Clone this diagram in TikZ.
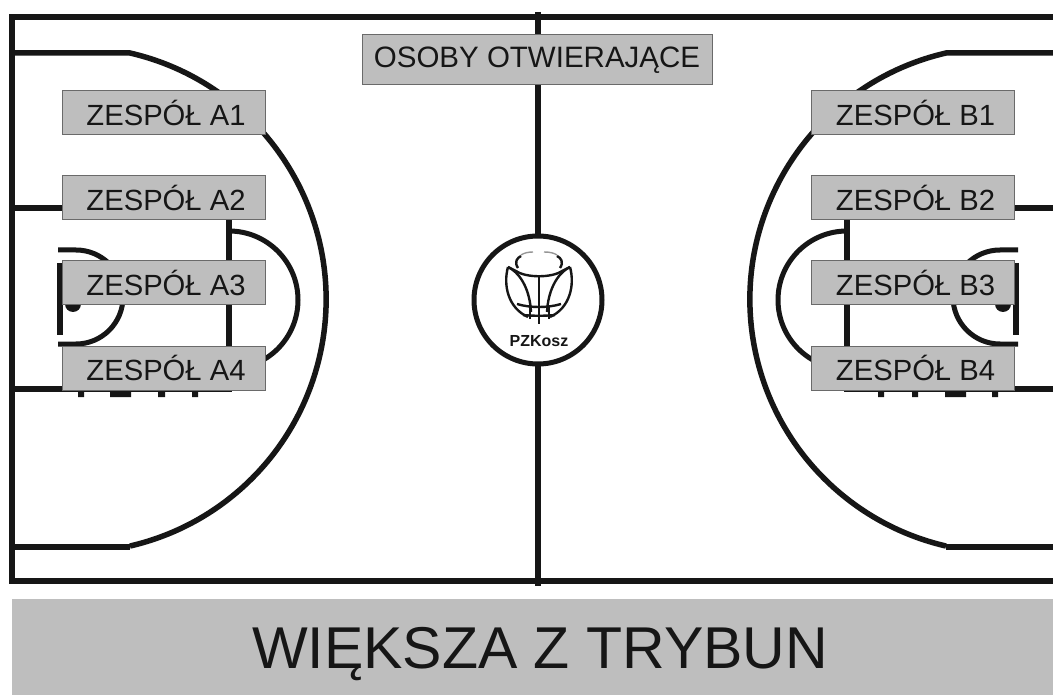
\documentclass[tikz,border=0pt]{standalone}
\usepackage{fontspec}
\setmainfont{Liberation Sans}
\definecolor{boxgray}{HTML}{BEBEBE}
\definecolor{boxedge}{HTML}{6A6A6A}
\definecolor{ink}{HTML}{161616}
\tikzset{
  court/.style={draw=ink,line width=5.5pt},
  thin court/.style={draw=ink,line width=5pt},
  team/.style={draw=boxedge,line width=1pt,fill=boxgray,text=ink,minimum width=203pt,minimum height=44pt,inner sep=0pt,font=\fontsize{29.2}{30}\selectfont},
  teamtext/.style={team,execute at begin node={\kern5pt}},
  logoline/.style={draw=ink,line width=2.4pt},
}
\begin{document}
\begin{tikzpicture}[x=1pt,y=-1pt]
\useasboundingbox (0,0) rectangle (1053,695);
\fill[white] (0,0) rectangle (1053,695);
% outer lines
\draw[court] (1053,17) -- (12,17) -- (12,581) -- (1053,581);
\draw[court] (538,12) -- (538,586);
% three-point lines, left
\draw[court] (12,53) -- (130,53) arc[start angle=-77,end angle=77,radius=253];
\draw[court] (130,547) -- (12,547);
% lane, left
\draw[court] (12,208) -- (70,208);
\draw[court] (12,389) -- (232,389);
\draw[court] (229,215) -- (229,385);
\draw[thin court] (229,231) arc[start angle=-90,end angle=90,radius=69];
% basket, left
\draw[line width=6pt,draw=ink] (60,263) -- (60,335);
\draw[thin court] (58,250) -- (76,250) arc[start angle=-90,end angle=90,radius=47] -- (58,344);
\fill[ink] (73,304) circle[radius=8];
\fill[ink] (78,389) rectangle (84,397) (110,389) rectangle (131,397) (158,389) rectangle (165,397) (192,389) rectangle (198,397);
% three-point lines, right
\draw[court] (1053,53) -- (946,53) arc[start angle=257,end angle=103,radius=253];
\draw[court] (946,547) -- (1053,547);
% lane, right
\draw[court] (1053,208) -- (1006,208);
\draw[court] (1053,389) -- (844,389);
\draw[court] (847,215) -- (847,385);
\draw[thin court] (847,231) arc[start angle=270,end angle=90,radius=69];
% basket, right
\draw[line width=6pt,draw=ink] (1016,263) -- (1016,335);
\draw[thin court] (1018,250) -- (1000,250) arc[start angle=270,end angle=90,radius=47] -- (1018,344);
\fill[ink] (1003,304) circle[radius=8];
\fill[ink] (878,389) rectangle (884,397) (912,389) rectangle (918,397) (945,389) rectangle (966,397) (992,389) rectangle (998,397);
% centre circle and logo
\node[circle,draw=ink,line width=5pt,fill=white,minimum size=128pt,inner sep=0pt] (centre) at (538,300) {};
% ball outline
\draw[logoline] (508,267) .. controls (503,285) and (508,308) .. (528,317);
\draw[logoline] (570,267) .. controls (575,285) and (570,308) .. (550,317);
% hoop
\draw[logoline] (508,267) -- (516,271) .. controls (526,278) and (552,278) .. (562,271) -- (570,267);
\draw[logoline] (518,268) .. controls (514,262) and (517,258) .. (521,256);
\draw[logoline] (560,268) .. controls (564,262) and (561,258) .. (557,256);
\draw[draw=ink!45,line width=1.4pt] (521,255) .. controls (524,253) and (528,252) .. (533,252);
\draw[draw=ink!45,line width=1.4pt] (557,255) .. controls (554,253) and (550,252) .. (544,252);
% fan lines and centre stem
\draw[logoline] (508,267) .. controls (522,274) and (530,292) .. (531,312);
\draw[logoline] (570,267) .. controls (556,274) and (548,292) .. (547,312);
\draw[logoline] (539,276) -- (539,324);
\draw[logoline] (532,276) -- (546,276);
% net
\draw[logoline] (517,304) .. controls (530,308) and (548,308) .. (561,304);
\draw[logoline] (523,315) .. controls (532,316) and (546,316) .. (555,315);
\draw[logoline] (530,306) -- (530,319);
\draw[logoline] (549,306) -- (549,319);
\node[text=ink,font=\bfseries\fontsize{16}{16}\selectfont,inner sep=0pt] (pzkosz) at (539,341) {PZKosz};
% labels
\node[team,minimum width=350pt,minimum height=50pt,font=\fontsize{29.5}{30}\selectfont] (open) at (537,60) {OSOBY OTWIERAJĄCE};
\node[teamtext] (a1) at (163.5,113) {ZESPÓŁ A1};
\node[teamtext] (a2) at (163.5,198) {ZESPÓŁ A2};
\node[teamtext] (a3) at (163.5,283) {ZESPÓŁ A3};
\node[teamtext] (a4) at (163.5,368) {ZESPÓŁ A4};
\node[teamtext] (b1) at (913,113) {ZESPÓŁ B1};
\node[teamtext] (b2) at (913,198) {ZESPÓŁ B2};
\node[teamtext] (b3) at (913,283) {ZESPÓŁ B3};
\node[teamtext] (b4) at (913,368) {ZESPÓŁ B4};
% stand
\node[fill=boxgray,minimum width=1041pt,minimum height=96pt,inner sep=0pt,anchor=north west] (stand) at (12,599) {};
\node[text=ink,font=\fontsize{59}{60}\selectfont,inner sep=0pt] (standtext) at (540,654) {WIĘKSZA Z TRYBUN};
\end{tikzpicture}
\end{document}
